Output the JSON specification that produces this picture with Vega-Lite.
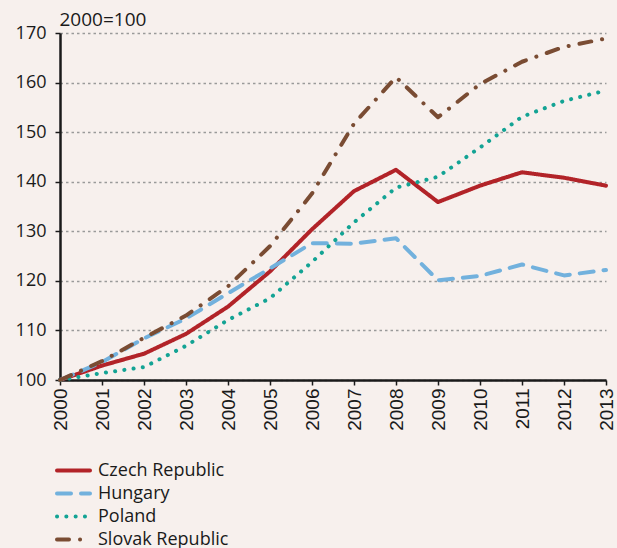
{
  "$schema": "https://vega.github.io/schema/vega-lite/v6.json",
  "width": 546,
  "height": 347,
  "autosize": "none",
  "padding": {"left": 60, "top": 33, "right": 11, "bottom": 168},
  "background": "#f7f0ed",
  "config": {
    "view": {"stroke": null},
    "font": "Open Sans"
  },
  "data": {
    "values": [
      {"year": 2000, "country": "Czech Republic", "value": 100},
      {"year": 2001, "country": "Czech Republic", "value": 102.9},
      {"year": 2002, "country": "Czech Republic", "value": 105.3},
      {"year": 2003, "country": "Czech Republic", "value": 109.3},
      {"year": 2004, "country": "Czech Republic", "value": 114.8},
      {"year": 2005, "country": "Czech Republic", "value": 121.9},
      {"year": 2006, "country": "Czech Republic", "value": 130.4},
      {"year": 2007, "country": "Czech Republic", "value": 138.1},
      {"year": 2008, "country": "Czech Republic", "value": 142.4},
      {"year": 2009, "country": "Czech Republic", "value": 135.9},
      {"year": 2010, "country": "Czech Republic", "value": 139.2},
      {"year": 2011, "country": "Czech Republic", "value": 141.9},
      {"year": 2012, "country": "Czech Republic", "value": 140.8},
      {"year": 2013, "country": "Czech Republic", "value": 139.2},
      {"year": 2000, "country": "Hungary", "value": 100},
      {"year": 2001, "country": "Hungary", "value": 103.6},
      {"year": 2002, "country": "Hungary", "value": 108.4},
      {"year": 2003, "country": "Hungary", "value": 112.4},
      {"year": 2004, "country": "Hungary", "value": 117.5},
      {"year": 2005, "country": "Hungary", "value": 122.5},
      {"year": 2006, "country": "Hungary", "value": 127.6},
      {"year": 2007, "country": "Hungary", "value": 127.5},
      {"year": 2008, "country": "Hungary", "value": 128.6},
      {"year": 2009, "country": "Hungary", "value": 120.1},
      {"year": 2010, "country": "Hungary", "value": 121.0},
      {"year": 2011, "country": "Hungary", "value": 123.3},
      {"year": 2012, "country": "Hungary", "value": 121.1},
      {"year": 2013, "country": "Hungary", "value": 122.2},
      {"year": 2000, "country": "Poland", "value": 100},
      {"year": 2001, "country": "Poland", "value": 101.4},
      {"year": 2002, "country": "Poland", "value": 102.6},
      {"year": 2003, "country": "Poland", "value": 106.9},
      {"year": 2004, "country": "Poland", "value": 112.1},
      {"year": 2005, "country": "Poland", "value": 116.5},
      {"year": 2006, "country": "Poland", "value": 123.8},
      {"year": 2007, "country": "Poland", "value": 131.8},
      {"year": 2008, "country": "Poland", "value": 138.8},
      {"year": 2009, "country": "Poland", "value": 141.0},
      {"year": 2010, "country": "Poland", "value": 146.9},
      {"year": 2011, "country": "Poland", "value": 153.1},
      {"year": 2012, "country": "Poland", "value": 156.3},
      {"year": 2013, "country": "Poland", "value": 158.4},
      {"year": 2000, "country": "Slovak Republic", "value": 100},
      {"year": 2001, "country": "Slovak Republic", "value": 103.8},
      {"year": 2002, "country": "Slovak Republic", "value": 108.5},
      {"year": 2003, "country": "Slovak Republic", "value": 113.0},
      {"year": 2004, "country": "Slovak Republic", "value": 118.9},
      {"year": 2005, "country": "Slovak Republic", "value": 127.0},
      {"year": 2006, "country": "Slovak Republic", "value": 137.6},
      {"year": 2007, "country": "Slovak Republic", "value": 151.7},
      {"year": 2008, "country": "Slovak Republic", "value": 161.1},
      {"year": 2009, "country": "Slovak Republic", "value": 153.0},
      {"year": 2010, "country": "Slovak Republic", "value": 159.7},
      {"year": 2011, "country": "Slovak Republic", "value": 164.2},
      {"year": 2012, "country": "Slovak Republic", "value": 167.2},
      {"year": 2013, "country": "Slovak Republic", "value": 168.9}
    ]
  },
  "mark": {"type": "line", "strokeWidth": 4, "strokeCap": "round", "strokeJoin": "round"},
  "encoding": {
    "x": {
      "field": "year", "type": "quantitative",
      "scale": {"domain": [2000, 2013], "nice": false, "zero": false},
      "axis": {
        "title": null,
        "values": [2000,2001,2002,2003,2004,2005,2006,2007,2008,2009,2010,2011,2012,2013],
        "format": "d",
        "labelAngle": 270,
        "labelAlign": "right",
        "labelBaseline": "middle",
        "labelFont": "Liberation Sans",
        "labelFontSize": 19,
        "labelColor": "#1a1a1a",
        "labelPadding": 3,
        "labelFlush": false,
        "labelOverlap": false,
        "domainColor": "#1a1a1a",
        "domainWidth": 2.5,
        "tickColor": "#1a1a1a",
        "tickWidth": 1.5,
        "tickSize": 5,
        "grid": false
      }
    },
    "y": {
      "field": "value", "type": "quantitative",
      "scale": {"domain": [100, 170], "nice": false, "zero": false},
      "axis": {
        "values": [100,110,120,130,140,150,160,170],
        "title": "2000=100",
        "titleAngle": 0,
        "titleX": -1,
        "titleY": -8,
        "titleAlign": "left",
        "titleBaseline": "alphabetic",
        "titleFont": "Open Sans",
        "titleFontSize": 19,
        "titleFontWeight": "normal",
        "titleColor": "#1a1a1a",
        "labelFont": "Open Sans",
        "labelFontSize": 18,
        "labelColor": "#1a1a1a",
        "labelPadding": 9,
        "domainColor": "#1a1a1a",
        "domainWidth": 2.5,
        "tickColor": "#1a1a1a",
        "tickWidth": 1.5,
        "tickSize": 5,
        "grid": true,
        "gridColor": "#9a9a9a",
        "gridDash": [2.5, 3],
        "gridWidth": 1.3
      }
    },
    "color": {
      "field": "country", "type": "nominal",
      "scale": {
        "domain": ["Czech Republic", "Hungary", "Poland", "Slovak Republic"],
        "range": ["#b22328", "#72b1dd", "#13a394", "#7a4c33"]
      },
      "legend": {
        "title": null,
        "orient": "none",
        "legendX": -5,
        "legendY": 426,
        "padding": 0,
        "symbolType": "stroke",
        "symbolSize": 1089,
        "symbolStrokeWidth": 4,
        "clipHeight": 23,
        "rowPadding": 0,
        "labelOffset": 6,
        "labelFont": "Open Sans",
        "labelFontSize": 18,
        "labelColor": "#1a1a1a",
        "labelLimit": 300,
        "encode": {"symbols": {"update": {"strokeCap": {"value": "round"}}}}
      }
    },
    "strokeDash": {
      "field": "country", "type": "nominal",
      "scale": {
        "domain": ["Czech Republic", "Hungary", "Poland", "Slovak Republic"],
        "range": [[1, 0], [14, 10], [0.1, 9.2], [12, 11, 0.1, 11]]
      },
      "legend": null
    }
  }
}
